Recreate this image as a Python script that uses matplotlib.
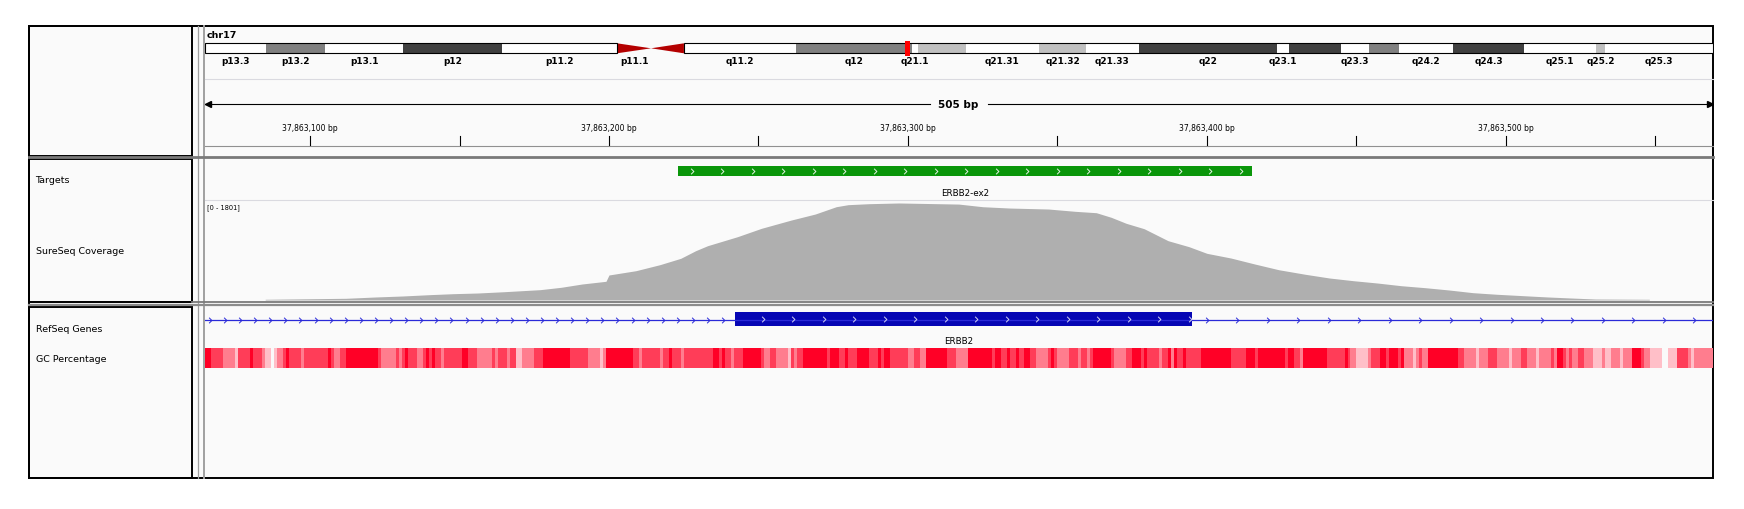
import numpy as np
import matplotlib
matplotlib.use("Agg")
import matplotlib.pyplot as plt
from matplotlib.patches import Rectangle, Polygon
from matplotlib.path import Path
from matplotlib.colors import ListedColormap

# ---- data ----
CHROM = "chr17"
CHROM_LEN_MB = 81.195
BAND_NAMES = ["p13.3", "p13.2", "p13.1", "p12", "p11.2", "p11.1", "q11.1", "q11.2",
              "q12", "q21.1", "q21.2", "q21.31", "q21.32", "q21.33", "q22", "q23.1",
              "q23.2", "q23.3", "q24.1", "q24.2", "q24.3", "q25.1", "q25.2", "q25.3"]
BAND_STARTS_MB = [0.0, 3.29, 6.51, 10.69, 16.02, 22.21, 24.04, 25.81,
                  31.87, 38.09, 38.41, 40.97, 44.95, 47.46, 50.29, 57.72,
                  58.36, 61.18, 62.69, 64.31, 67.21, 71.04, 74.91, 75.42]
BAND_STAINS = ["gneg", "gpos50", "gneg", "gpos75", "gneg", "acen", "acen", "gneg",
               "gpos50", "gneg", "gpos25", "gneg", "gpos25", "gneg", "gpos75", "gneg",
               "gpos75", "gneg", "gpos50", "gneg", "gpos75", "gneg", "gpos25", "gneg"]
HIDDEN_BAND_LABELS = ["q11.1", "q21.2", "q23.2", "q24.1"]

VIEW_START = 37863064.7
VIEW_END = 37863569.2
RULER_LABEL = "505 bp"
LABEL_TICKS = [37863100, 37863200, 37863300, 37863400, 37863500]
PLAIN_TICKS = [37863150, 37863250, 37863350, 37863450, 37863550]

TRACK_NAMES = ["Targets", "SureSeq Coverage", "RefSeq Genes", "GC Percentage"]

TARGET_NAME = "ERBB2-ex2"
TARGET_START = 37863223
TARGET_END = 37863415

COV_MAX = 1801
COV_POS = [37863085, 37863112, 37863122, 37863131, 37863140, 37863148, 37863156,
           37863165, 37863177, 37863184, 37863191, 37863199, 37863200, 37863209,
           37863217, 37863224, 37863229, 37863233, 37863243, 37863251, 37863261,
           37863269, 37863276, 37863280, 37863287, 37863297, 37863317, 37863325,
           37863334, 37863347, 37863356, 37863363, 37863368, 37863373, 37863379,
           37863387, 37863394, 37863400, 37863408, 37863416, 37863424, 37863433,
           37863441, 37863449, 37863457, 37863465, 37863473, 37863481, 37863489,
           37863497, 37863506, 37863514, 37863522, 37863530, 37863548]
COV_DEPTH = [13, 31, 55, 73, 97, 115, 127, 151, 188, 231, 291, 340, 455, 533,
             642, 758, 897, 988, 1152, 1304, 1455, 1564, 1697, 1734, 1752, 1765,
             1745, 1697, 1673, 1655, 1613, 1588, 1504, 1395, 1297, 1079, 970, 849,
             764, 655, 551, 467, 400, 351, 309, 260, 224, 182, 133, 104, 78, 55,
             36, 18, 13]

GENE_NAME = "ERBB2"
EXON_START = 37863242
EXON_END = 37863395

# GC shade per base: R high, r mid-high, p mid, l low, w lowest
GC_START = 37863065
GC_PART1 = """RR rrrr pppp l rrrr R rrr p ll w l pp r R rrrr p rrrrrrrr R r pp rr
RRRRRRRRRRR r ppppp r p r R rrr pp r R r R rr p rrrrrr RR rrr ppppp r p rrr p rr
ll pppp rrr RRRRRRRRR rrrrr"""
GC_PART2 = """r pppp l p RRRRRRRRR rr p rrrrrr p rr R rrr p rrrrrrrrrr RR r R rr p rrr
RRRRRR r pp rr pppp l r p rr RRRRRRRR r RRR rr R rrr RRRR rrr R r RR rrrrrr pp
rr pp RRRRRRR rrr ppp"""
GC_PART3 = """p RRRRRRRR r RR rr R rr R rr RR rr pppp r R r pppp rrr p rr p r RRRRRR r
pppp rr RRR r R rrrr p rr R p R rr R rrrrr RRRRRRRRRR rrrrr RRR r RRRRRRRRR r RR
rr p RRRRRRRR rrrrrr"""
GC_PART4 = """R r pp llll p rrr RR r RRR r R ppp l p r pp RRRRRRRRRR rr pppp l ppp rrr
pppp l ppp rr ppp l pppp r p RR r p r pp rr ppp lll p ll ppp l ppp RRR r pp
llll ww lll rrrr p l ppppppp"""

# ---- layout / style ----
W, H = 1744, 510
X0, X1 = 204.5, 1712.7
PANEL_BG = "#FAFAFA"
STAIN_COLORS = {"gneg": "#FFFFFF", "gpos25": "#C0C0C0", "gpos50": "#808080",
                "gpos75": "#404040", "acen": "#B40000"}
GC_COLORS = ["#FF0026", "#FF3D58", "#FF7D8E", "#FFBFC8", "#FAFAFA"]

fig = plt.figure(figsize=(W / 100, H / 100), dpi=100)
bg = fig.add_axes([0, 0, 1, 1])
bg.set_xlim(0, W)
bg.set_ylim(H, 0)
bg.axis("off")


def strip_axes(xlim):
    ax = fig.add_axes([X0 / W, 0, (X1 - X0) / W, 1])
    ax.set_xlim(*xlim)
    ax.set_ylim(H, 0)
    ax.axis("off")
    return ax


# frames
bg.add_patch(Rectangle((29, 26.7), 1713 - 29, 479 - 26.7, facecolor=PANEL_BG,
                       edgecolor="black", lw=1.4))
for y0, y1 in [(26.7, 157), (160, 302.7), (308.3, 479)]:
    bg.add_patch(Rectangle((29, y0), 163, y1 - y0, facecolor="none",
                           edgecolor="black", lw=1.4))
bg.plot([197.5, 197.5], [26.7, 479], color="#A0A0A0", lw=0.9)
bg.plot([203.5, 203.5], [26.7, 479], color="#A0A0A0", lw=1.4)
bg.plot([29, 1713], [158.4, 158.4], color="#7A7A7A", lw=2.0)
bg.plot([192, 1713], [303, 303], color="#7A7A7A", lw=1.3)
bg.plot([29, 1713], [305.6, 305.6], color="#8C8C8C", lw=1.6)
bg.plot([X0, X1], [80, 80], color="#DADAE0", lw=0.8)
bg.plot([X0, X1], [201, 201], color="#DADAE0", lw=0.8)
bg.plot([X0, X1], [146.7, 146.7], color="#909090", lw=0.8)

# left-hand names
bg.text(207, 36, CHROM, fontsize=6.8, weight="bold", va="center")
for name, y in zip(TRACK_NAMES, [181, 252, 329.3, 359.5]):
    bg.text(35.5, y, name, fontsize=6.8, va="center")
bg.text(207, 208, f"[0 - {COV_MAX}]", fontsize=4.8, va="center")

# ideogram
ideo = strip_axes((0, CHROM_LEN_MB))
band_ends = BAND_STARTS_MB[1:] + [CHROM_LEN_MB]
acen = [i for i, s in enumerate(BAND_STAINS) if s == "acen"]
for name, s, e, stain in zip(BAND_NAMES, BAND_STARTS_MB, band_ends, BAND_STAINS):
    if stain == "acen":
        if name.startswith("p"):
            tri = [(s, 44.3), (s, 54.3), (e, 49.3)]
        else:
            tri = [(e, 44.3), (e, 54.3), (s, 49.3)]
        ideo.add_patch(Polygon(tri, closed=True, facecolor=STAIN_COLORS[stain], edgecolor="none"))
    else:
        ideo.add_patch(Rectangle((s, 44.3), e - s, 10, facecolor=STAIN_COLORS[stain],
                                 edgecolor="none"))
    if name not in HIDDEN_BAND_LABELS:
        ideo.text((s + e) / 2, 61.3, name, fontsize=6.5, weight="bold",
                  ha="center", va="center")
p_end = BAND_STARTS_MB[acen[0]]
q_start = band_ends[acen[-1]]
ideo.add_patch(Rectangle((0, 44.3), p_end, 10, facecolor="none", edgecolor="black", lw=0.8))
ideo.add_patch(Rectangle((q_start, 44.3), CHROM_LEN_MB - q_start, 10, facecolor="none",
                         edgecolor="black", lw=0.8))
view_mb = (VIEW_START + VIEW_END) / 2 / 1e6
mark_w = max((VIEW_END - VIEW_START) / 1e6, 5 * CHROM_LEN_MB / (X1 - X0))
ideo.add_patch(Rectangle((view_mb - mark_w / 2, 42), mark_w, 14.5, facecolor="#FF0000",
                         edgecolor="none"))

# bp tracks
ax = strip_axes((VIEW_START, VIEW_END))
bp_px = (VIEW_END - VIEW_START) / (X1 - X0)
mid = (VIEW_START + VIEW_END) / 2

# ruler
ax.plot([VIEW_START, mid - 29 * bp_px], [105.3, 105.3], color="black", lw=0.8)
ax.plot([mid + 29 * bp_px, VIEW_END], [105.3, 105.3], color="black", lw=0.8)
ax.plot([VIEW_START + 3 * bp_px], [105.3], marker="<", ms=5, color="black", clip_on=False)
ax.plot([VIEW_END - 3 * bp_px], [105.3], marker=">", ms=5, color="black", clip_on=False)
ax.text(mid, 105.3, RULER_LABEL, fontsize=7.5, weight="bold", ha="center", va="center")
for t in sorted(LABEL_TICKS + PLAIN_TICKS):
    ax.plot([t, t], [137, 146], color="black", lw=0.8)
for t in LABEL_TICKS:
    ax.text(t, 128.3, f"{t:,} bp", fontsize=5.5, ha="center", va="center")

chevron = Path([(-0.5, 1), (0.5, 0), (-0.5, -1)], [Path.MOVETO, Path.LINETO, Path.LINETO])


def chevrons(xs, y, color, size=4):
    ax.plot(xs, np.full(len(xs), y), linestyle="none", marker=chevron, ms=size,
            mfc="none", mec=color, mew=0.7)


# targets
ax.add_patch(Rectangle((TARGET_START, 167), TARGET_END - TARGET_START, 10,
                       facecolor="#0A960A", edgecolor="none"))
chevrons(np.arange(TARGET_START + 4.7, TARGET_END, 10.2), 172, "#E6F2E6")
ax.text((TARGET_START + TARGET_END) / 2, 194, TARGET_NAME, fontsize=6.3,
        ha="center", va="center")

# coverage
cov = fig.add_axes([X0 / W, 1 - 301 / H, (X1 - X0) / W, (301 - 202) / H])
cov.set_xlim(VIEW_START, VIEW_END)
cov.set_ylim(0, COV_MAX)
cov.axis("off")
cov.fill_between(COV_POS, COV_DEPTH, 0, color="#AFAFAF", lw=0)

# gene
ax.plot([VIEW_START, VIEW_END], [320.7, 320.7], color="#2A2AD8", lw=0.9)
chevrons(np.arange(VIEW_START + 1.8, EXON_START, 5.05), 320.7, "#2A2AD8")
chevrons(np.arange(EXON_END + 4.9, VIEW_END, 10.2), 320.7, "#2A2AD8")
ax.add_patch(Rectangle((EXON_START, 313.3), EXON_END - EXON_START, 14,
                       facecolor="#0606B4", edgecolor="none"))
chevrons(np.arange(EXON_START + 9.5, EXON_END, 10.2), 320.3, "#D0D0F0")
ax.text(mid, 342, GENE_NAME, fontsize=6.3, ha="center", va="center")

# GC percentage
gc_levels = "".join((GC_PART1 + GC_PART2 + GC_PART3 + GC_PART4).split())
gc_idx = np.array(["RrplW".index(c) if c != "w" else 4 for c in gc_levels])
ax.imshow(gc_idx[None, :], extent=(GC_START, GC_START + len(gc_idx), 369, 349),
          aspect="auto", cmap=ListedColormap(GC_COLORS), vmin=-0.5, vmax=4.5,
          interpolation="nearest")
ax.set_xlim(VIEW_START, VIEW_END)
ax.set_ylim(H, 0)

fig.savefig("out.png", dpi=100)
